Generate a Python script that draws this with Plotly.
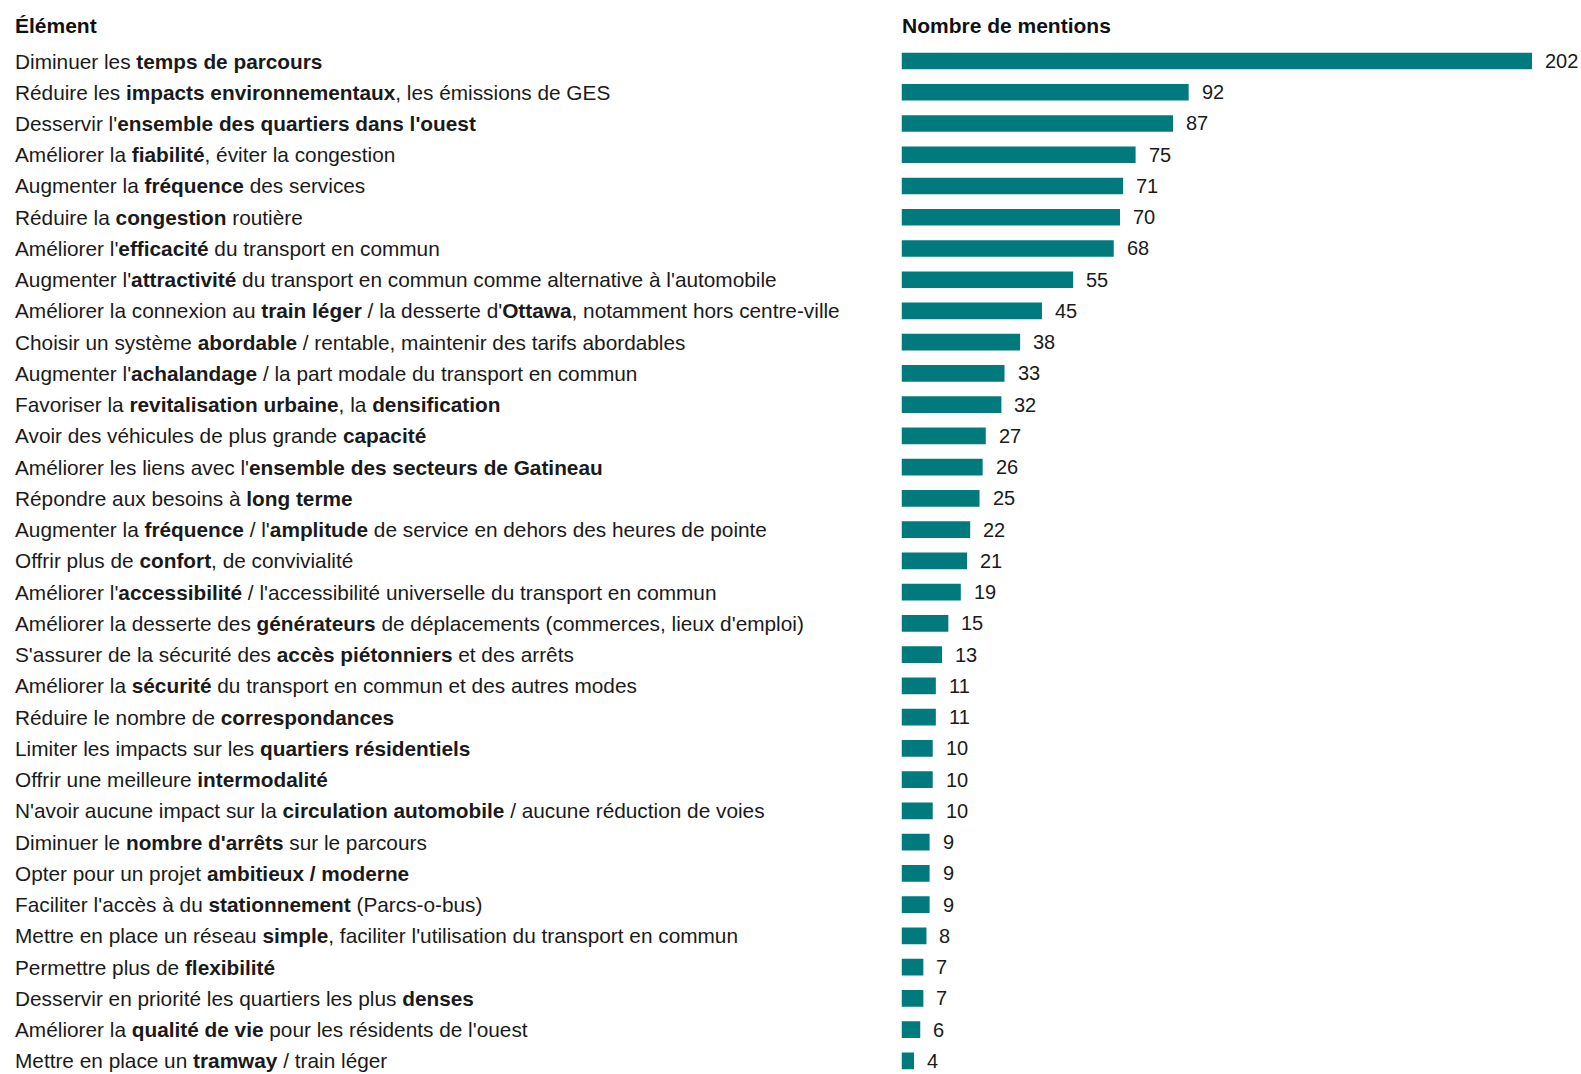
import plotly.graph_objects as go

labels = [
    "Diminuer les <b>temps de parcours</b>",
    "Réduire les <b>impacts environnementaux</b>, les émissions de GES",
    "Desservir l'<b>ensemble des quartiers dans l'ouest</b>",
    "Améliorer la <b>fiabilité</b>, éviter la congestion",
    "Augmenter la <b>fréquence</b> des services",
    "Réduire la <b>congestion</b> routière",
    "Améliorer l'<b>efficacité</b> du transport en commun",
    "Augmenter l'<b>attractivité</b> du transport en commun comme alternative à l'automobile",
    "Améliorer la connexion au <b>train léger</b> / la desserte d'<b>Ottawa</b>, notamment hors centre-ville",
    "Choisir un système <b>abordable</b> / rentable, maintenir des tarifs abordables",
    "Augmenter l'<b>achalandage</b> / la part modale du transport en commun",
    "Favoriser la <b>revitalisation urbaine</b>, la <b>densification</b>",
    "Avoir des véhicules de plus grande <b>capacité</b>",
    "Améliorer les liens avec l'<b>ensemble des secteurs de Gatineau</b>",
    "Répondre aux besoins à <b>long terme</b>",
    "Augmenter la <b>fréquence</b> / l'<b>amplitude</b> de service en dehors des heures de pointe",
    "Offrir plus de <b>confort</b>, de convivialité",
    "Améliorer l'<b>accessibilité</b> / l'accessibilité universelle du transport en commun",
    "Améliorer la desserte des <b>générateurs</b> de déplacements (commerces, lieux d'emploi)",
    "S'assurer de la sécurité des <b>accès piétonniers</b> et des arrêts",
    "Améliorer la <b>sécurité</b> du transport en commun et des autres modes",
    "Réduire le nombre de <b>correspondances</b>",
    "Limiter les impacts sur les <b>quartiers résidentiels</b>",
    "Offrir une meilleure <b>intermodalité</b>",
    "N'avoir aucune impact sur la <b>circulation automobile</b> / aucune réduction de voies",
    "Diminuer le <b>nombre d'arrêts</b> sur le parcours",
    "Opter pour un projet <b>ambitieux / moderne</b>",
    "Faciliter l'accès à du <b>stationnement</b> (Parcs-o-bus)",
    "Mettre en place un réseau <b>simple</b>, faciliter l'utilisation du transport en commun",
    "Permettre plus de <b>flexibilité</b>",
    "Desservir en priorité les quartiers les plus <b>denses</b>",
    "Améliorer la <b>qualité de vie</b> pour les résidents de l'ouest",
    "Mettre en place un <b>tramway</b> / train léger",
]

mentions = [202, 92, 87, 75, 71, 70, 68, 55, 45, 38, 33, 32, 27, 26, 25, 22,
            21, 19, 15, 13, 11, 11, 10, 10, 10, 9, 9, 9, 8, 7, 7, 6, 4]

header_left = "Élément"
header_right = "Nombre de mentions"

bar_color = "#007A7C"
text_color = "#1a1a1a"
label_font = "Liberation Sans, Arial, sans-serif"

idx = list(range(len(labels)))

fig = go.Figure()
fig.add_trace(go.Bar(
    x=mentions, y=idx, orientation="h",
    marker=dict(color=bar_color, line=dict(width=0)),
    width=0.534, hoverinfo="skip",
))

annotations = []
for i, (lab, v) in enumerate(zip(labels, mentions)):
    annotations.append(dict(
        x=0, xref="paper", y=i, yref="y", text=lab, showarrow=False,
        xanchor="left", yanchor="middle", xshift=-2,
        font=dict(family=label_font, size=20.8, color=text_color),
    ))
    annotations.append(dict(
        x=v, xref="x", y=i, yref="y", text=str(v), showarrow=False,
        xanchor="left", yanchor="middle", xshift=11,
        font=dict(family=label_font, size=20, color=text_color),
    ))

annotations.append(dict(
    x=0, xref="paper", y=1.0194, yref="paper", text="<b>" + header_left + "</b>",
    showarrow=False, xanchor="left", yanchor="middle", xshift=-2,
    font=dict(family=label_font, size=21, color="#111111"),
))
annotations.append(dict(
    x=0, xref="x", y=1.0194, yref="paper", text="<b>" + header_right + "</b>",
    showarrow=False, xanchor="left", yanchor="middle", xshift=-2,
    font=dict(family=label_font, size=21, color="#111111"),
))

fig.update_layout(
    width=1581, height=1074,
    margin=dict(l=15, r=0, t=45, b=0),
    paper_bgcolor="white", plot_bgcolor="white",
    showlegend=False,
    xaxis=dict(domain=[0.5661, 1.0], range=[0, 217.7], visible=False, fixedrange=True),
    yaxis=dict(range=[32.42, -0.512], visible=False, fixedrange=True),
    annotations=annotations,
)

fig.write_html(
    "out.html",
    config={"displayModeBar": False, "staticPlot": True},
    post_script="document.body.style.margin='0';document.body.style.overflow='hidden';",
)
